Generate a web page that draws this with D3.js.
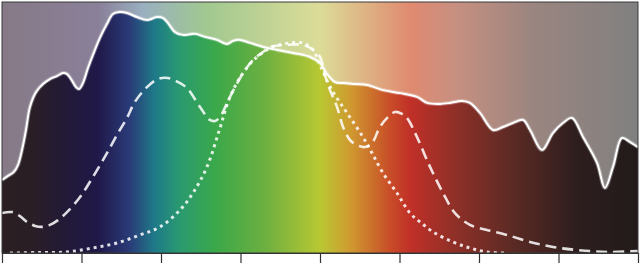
<!DOCTYPE html>
<html>
<head>
<meta charset="utf-8">
<script src="https://cdn.jsdelivr.net/npm/d3@7"></script>
<style>
  html, body { margin: 0; padding: 0; background: #fff; }
  svg { display: block; }
</style>
</head>
<body>
<div id="chart"></div>
<script>
// wavelength (nm) ticks along the bottom, no labels
const tickValues = [400, 450, 500, 550, 600, 650, 700, 750, 800];

// measured spectrum (solid white line)
const specWl = [400, 403.8, 407.5, 410.1, 412.6, 415.1, 417.6, 421.4, 425.8, 430.2, 434.6, 438.4, 440.9, 443.4, 446.5, 448.4, 450.9, 454.1, 457.2, 461.6, 466.0, 469.8, 474.2, 478.6, 484.9, 491.2, 497.5, 501.3, 504.4, 508.8, 513.8, 521.4, 527.7, 535.2, 541.5, 545.3, 549.7, 556.0, 564.2, 573.0, 583.0, 593.7, 600.0, 604.4, 609.4, 614.5, 622.0, 629.6, 639.6, 650.3, 661.0, 667.3, 675.5, 681.8, 689.3, 694.3, 700.6, 708.8, 715.1, 721.4, 727.7, 732.1, 739.6, 746.5, 752.8, 758.5, 765.4, 774.2, 779.2, 784.3, 789.9, 795.0, 800];
const specVal = [29.1, 30.7, 32.3, 35.1, 41.0, 49.0, 58.2, 64.1, 67.3, 69.3, 70.5, 71.7, 71.3, 69.3, 66.1, 65.3, 67.7, 73.7, 78.9, 85.7, 91.2, 95.2, 96.0, 95.6, 94.0, 92.8, 94.0, 93.6, 91.6, 88.0, 86.9, 87.3, 86.1, 84.9, 83.3, 84.5, 84.9, 83.7, 82.1, 80.9, 79.7, 78.1, 75.7, 71.3, 68.1, 67.7, 67.3, 66.9, 64.9, 63.7, 62.2, 59.8, 59.4, 59.8, 60.6, 59.8, 55.8, 49.0, 50.2, 51.8, 53.0, 49.0, 41.0, 47.8, 51.8, 53.8, 46.2, 35.9, 25.9, 34.3, 45.8, 44.2, 42.2];

// two-peaked curve (long dashes)
const dashWl = [400, 406.3, 411.3, 415.7, 420.8, 425.2, 430.2, 435.2, 440.9, 449.1, 457.2, 466.0, 473.0, 478.6, 483.6, 491.2, 498.1, 504.4, 510.7, 516.4, 524.5, 530.8, 534.0, 537.1, 543.4, 551.6, 557.9, 564.2, 568.6, 579.2, 589.3, 594.9, 600.0, 603.1, 606.3, 610.7, 614.5, 618.9, 623.3, 628.3, 632.7, 637.7, 642.8, 647.2, 651.6, 654.7, 661.0, 669.2, 677.4, 684.9, 694.3, 705.0, 717.6, 732.1, 746.5, 761.6, 780.5, 800];
const dashVal = [15.9, 16.3, 14.7, 12.4, 10.8, 10.4, 11.2, 13.1, 16.3, 22.3, 30.3, 39.8, 47.8, 53.8, 60.2, 66.1, 69.3, 69.7, 68.1, 65.7, 58.2, 53.0, 52.6, 54.2, 62.2, 71.7, 76.9, 80.1, 82.1, 82.9, 82.9, 81.3, 78.1, 70.9, 64.9, 58.2, 50.2, 45.0, 43.0, 42.2, 43.8, 50.2, 54.2, 56.2, 55.4, 53.8, 46.2, 34.3, 23.9, 15.9, 11.2, 9.2, 7.2, 4.4, 2.4, 1.2, 0.4, 0.8];

// single-peaked curve (dots)
const dotWl = [405.0, 423.9, 440.9, 457.2, 472.3, 486.8, 499.4, 511.9, 520.1, 528.9, 537.1, 543.4, 551.6, 560.4, 570.4, 581.1, 589.3, 595.6, 600.0, 607.5, 617.0, 627.0, 632.7, 639.6, 648.4, 656.6, 662.9, 671.1, 683.6, 694.3, 705.0, 717.6];
const dotVal = [0, 0.2, 0.4, 2.0, 4.0, 7.2, 10.4, 17.1, 23.9, 34.3, 49.8, 62.2, 71.7, 78.1, 82.1, 83.7, 83.7, 80.9, 74.9, 64.9, 55.8, 46.2, 39.8, 31.9, 23.9, 15.9, 12.4, 8.4, 4.4, 2.0, 0.4, 0];

// colour bands: under the curve (saturated) and above it (washed out)
const lowStops = [[400, '#2a1f22'], [419, '#2a1e26'], [438, '#231a36'], [460, '#201848'], [480, '#2a3a78'], [496, '#1e7a88'], [512, '#2a9a70'], [534, '#3aa84a'], [567, '#70b040'], [600, '#b8c832'], [619, '#d09a30'], [645, '#c84a28'], [657, '#c03028'], [684, '#903028'], [722, '#5a2a24'], [761, '#2e1e1e'], [800, '#221a1a']];
const highStops = [[400, '#867a86'], [461, '#8a809a'], [489, '#9ab0c0'], [528, '#a0c890'], [600, '#dcdc98'], [657, '#e08a70'], [684, '#c89080'], [735, '#9a8580'], [800, '#808080']];

const WIDTH = 642, HEIGHT = 267;
const LEFT = 2, RIGHT = 638, TOP = 2, BOTTOM = 253;

const x = d3.scaleLinear().domain([400, 800]).range([LEFT, RIGHT]);
const y = d3.scaleLinear().domain([0, 100]).range([BOTTOM, TOP]);

const svg = d3.select('#chart').append('svg')
    .attr('width', WIDTH)
    .attr('height', HEIGHT);

const defs = svg.append('defs');

function addGradient(id, stops) {
    const g = defs.append('linearGradient')
        .attr('id', id)
        .attr('gradientUnits', 'userSpaceOnUse')
        .attr('x1', x(400)).attr('x2', x(800))
        .attr('y1', 0).attr('y2', 0);
    g.selectAll('stop')
        .data(stops)
        .enter().append('stop')
        .attr('offset', d => (x(d[0]) - x(400)) / (x(800) - x(400)))
        .attr('stop-color', d => d[1]);
}
addGradient('lowGrad', lowStops);
addGradient('highGrad', highStops);

defs.append('clipPath').attr('id', 'plotClip')
    .append('rect')
    .attr('x', LEFT).attr('y', TOP)
    .attr('width', RIGHT - LEFT).attr('height', BOTTOM - TOP);

const plot = svg.append('g').attr('clip-path', 'url(#plotClip)');

plot.append('rect')
    .attr('x', LEFT).attr('y', TOP)
    .attr('width', RIGHT - LEFT).attr('height', BOTTOM - TOP)
    .attr('fill', 'url(#highGrad)');

const spec = specWl.map((w, i) => [w, specVal[i]]);
const dash = dashWl.map((w, i) => [w, dashVal[i]]);
const dots = dotWl.map((w, i) => [w, dotVal[i]]);

const area = d3.area()
    .x(d => x(d[0]))
    .y0(y(0))
    .y1(d => y(d[1]))
    .curve(d3.curveCatmullRom);

const line = d3.line()
    .x(d => x(d[0]))
    .y(d => y(d[1]))
    .curve(d3.curveCatmullRom);

plot.append('path')
    .datum(spec)
    .attr('d', area)
    .attr('fill', 'url(#lowGrad)');

plot.append('path')
    .datum(dots)
    .attr('d', line)
    .attr('fill', 'none')
    .attr('stroke', '#fff')
    .attr('stroke-opacity', 0.85)
    .attr('stroke-width', 3)
    .attr('stroke-dasharray', '3,4');

plot.append('path')
    .datum(dash)
    .attr('d', line)
    .attr('fill', 'none')
    .attr('stroke', '#fff')
    .attr('stroke-opacity', 0.85)
    .attr('stroke-width', 2.6)
    .attr('stroke-dasharray', '11,6');

// soft halo then the spectrum line
plot.append('path')
    .datum(spec)
    .attr('d', line)
    .attr('fill', 'none')
    .attr('stroke', '#fff')
    .attr('stroke-opacity', 0.3)
    .attr('stroke-width', 4);

plot.append('path')
    .datum(spec)
    .attr('d', line)
    .attr('fill', 'none')
    .attr('stroke', '#fff')
    .attr('stroke-width', 2);

svg.append('rect')
    .attr('x', LEFT).attr('y', TOP)
    .attr('width', RIGHT - LEFT).attr('height', BOTTOM - TOP)
    .attr('fill', 'none')
    .attr('stroke', '#3a3a3a')
    .attr('stroke-width', 1);

const axis = svg.append('g')
    .attr('transform', `translate(0,${BOTTOM})`)
    .call(d3.axisBottom(x).tickValues(tickValues).tickSize(10).tickFormat(''));
axis.select('.domain').attr('stroke', '#333');
axis.selectAll('.tick line').attr('stroke', '#333').attr('stroke-width', 1.2);
</script>
</body>
</html>
